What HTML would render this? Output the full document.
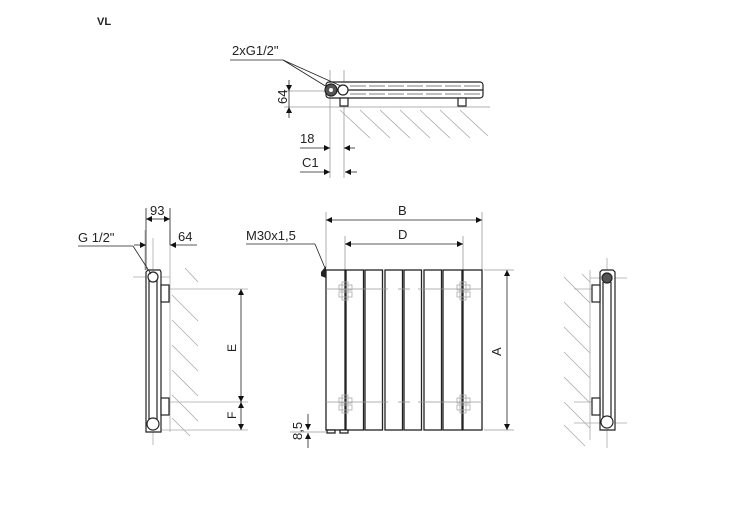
<!DOCTYPE html>
<html><head><meta charset="utf-8"><style>
html,body{margin:0;padding:0;background:#fff;}
svg{display:block;}
text{font-family:"Liberation Sans",sans-serif;fill:#222;font-size:12px;}
</style></head><body>
<svg width="740" height="521" viewBox="0 0 740 521" xmlns="http://www.w3.org/2000/svg">
<defs>
<marker id="a" viewBox="0 0 10 10" refX="10" refY="5" markerWidth="8" markerHeight="6" orient="auto-start-reverse" markerUnits="userSpaceOnUse"><path d="M0,0L10,5L0,10z" fill="#111"/></marker>
</defs>
<text x="97" y="25" style="font-weight:bold;font-size:11px">VL</text>

<!-- TOP VIEW -->
<g stroke="#999" stroke-width="0.8" fill="none">
<line x1="340" y1="107" x2="490" y2="107"/>
<g stroke="#aaa">
<line x1="340" y1="110" x2="370" y2="138"/><line x1="360" y1="110" x2="390" y2="138"/><line x1="380" y1="110" x2="410" y2="138"/><line x1="400" y1="110" x2="430" y2="138"/><line x1="420" y1="110" x2="450" y2="138"/><line x1="440" y1="110" x2="470" y2="138"/><line x1="460" y1="110" x2="488" y2="136"/>
</g>
<line x1="330" y1="70" x2="330" y2="178"/><line x1="344" y1="70" x2="344" y2="178"/>
<line x1="284" y1="91" x2="325" y2="91"/><line x1="284" y1="107" x2="340" y2="107"/>
<line x1="285" y1="77" x2="320" y2="77" stroke="none"/>
</g>
<g stroke="#222" stroke-width="1.2" fill="#fff">
<rect x="326" y="82" width="157" height="16" rx="3"/>
<line x1="328" y1="90" x2="483" y2="90"/>
</g>
<g stroke="#555" stroke-width="0.8">
<line x1="350" y1="86" x2="480" y2="86" stroke-dasharray="16,3"/>
<line x1="350" y1="94" x2="480" y2="94" stroke-dasharray="16,3"/>
</g>
<g stroke="#222" stroke-width="1.2" fill="#fff">
<rect x="340" y="98" width="8" height="8"/><rect x="458" y="98" width="8" height="8"/>
<circle cx="331" cy="90" r="6" fill="#555"/><circle cx="343" cy="90" r="5"/>
</g>
<circle cx="331" cy="90" r="2" fill="#fff"/>
<g stroke="#222" stroke-width="0.8">
<line x1="289" y1="80" x2="289" y2="91" marker-end="url(#a)"/>
<line x1="289" y1="118" x2="289" y2="107" marker-end="url(#a)"/>
<line x1="289" y1="91" x2="289" y2="107"/>
<line x1="300" y1="148" x2="330" y2="148" marker-end="url(#a)"/>
<line x1="355" y1="148" x2="344" y2="148" marker-end="url(#a)"/>
<line x1="300" y1="172" x2="330" y2="172" marker-end="url(#a)"/>
<line x1="357" y1="172" x2="345" y2="172" marker-end="url(#a)"/>
<line x1="230" y1="60" x2="283" y2="60"/>
<line x1="283" y1="60" x2="327" y2="87"/><line x1="283" y1="60" x2="341" y2="86"/>
</g>
<text x="232" y="55" style="font-size:13px">2xG1/2"</text>
<text transform="translate(287,104) rotate(-90)" style="font-size:13px">64</text>
<text x="300" y="143" style="font-size:13px">18</text>
<text x="302" y="167" style="font-size:13px">C1</text>

<!-- LEFT SIDE VIEW -->
<g stroke="#aaa" stroke-width="0.8">
<line x1="170" y1="230" x2="170" y2="432"/>
<line x1="185" y1="268" x2="198" y2="282"/><line x1="172" y1="295" x2="198" y2="321"/><line x1="172" y1="320" x2="198" y2="346"/><line x1="172" y1="345" x2="198" y2="371"/><line x1="172" y1="370" x2="198" y2="396"/><line x1="172" y1="395" x2="198" y2="421"/><line x1="172" y1="418" x2="190" y2="436"/>
<line x1="145" y1="230" x2="145" y2="270"/>
<line x1="153" y1="238" x2="153" y2="445"/>
<line x1="133" y1="277" x2="170" y2="277"/>
<line x1="160" y1="289" x2="248" y2="289"/><line x1="160" y1="402" x2="248" y2="402"/><line x1="160" y1="430" x2="248" y2="430"/>
</g>
<g stroke="#222" stroke-width="1.2" fill="#fff">
<path d="M146,272 L148,270 L160,270 L161,272 L161,432 L146,432 Z"/>
<line x1="149" y1="280" x2="149" y2="425"/><line x1="157" y1="280" x2="157" y2="425"/>
<circle cx="153" cy="277" r="5"/><circle cx="153" cy="424" r="6"/>
<rect x="161" y="285" width="8" height="17"/><rect x="161" y="398" width="8" height="17"/>
</g>
<line x1="153" y1="310" x2="153" y2="400" stroke="#fff" stroke-width="1" stroke-dasharray="8,6"/>
<g stroke="#222" stroke-width="0.8">
<line x1="146" y1="208" x2="146" y2="270"/><line x1="170" y1="208" x2="170" y2="245"/>
<line x1="158" y1="219" x2="146" y2="219" marker-end="url(#a)"/>
<line x1="158" y1="219" x2="170" y2="219" marker-end="url(#a)"/>
<line x1="134" y1="245" x2="146" y2="245" marker-end="url(#a)"/>
<line x1="197" y1="245" x2="170" y2="245" marker-end="url(#a)"/>
<line x1="78" y1="246" x2="133" y2="246"/><line x1="133" y1="246" x2="151" y2="274"/>
<line x1="241" y1="346" x2="241" y2="289" marker-end="url(#a)"/>
<line x1="241" y1="346" x2="241" y2="402" marker-end="url(#a)"/>
<line x1="241" y1="416" x2="241" y2="402" marker-end="url(#a)"/>
<line x1="241" y1="416" x2="241" y2="430" marker-end="url(#a)"/>
</g>
<text x="150" y="215" style="font-size:13px">93</text>
<text x="178" y="241" style="font-size:13px">64</text>
<text x="78" y="242" style="font-size:13px">G 1/2"</text>
<text transform="translate(236,352) rotate(-90)" style="font-size:12px">E</text>
<text transform="translate(236,419) rotate(-90)" style="font-size:12px">F</text>

<!-- FRONT VIEW -->
<g stroke="#999" stroke-width="0.8">
<line x1="326" y1="212" x2="326" y2="268"/><line x1="482" y1="212" x2="482" y2="270"/>
<line x1="345" y1="236" x2="345" y2="270"/><line x1="463" y1="236" x2="463" y2="270"/>
<line x1="484" y1="270" x2="514" y2="270"/><line x1="484" y1="430" x2="514" y2="430"/>
<line x1="290" y1="432" x2="326" y2="432"/>
</g>
<g stroke="#222" stroke-width="1.3" fill="#fff">
<rect x="326" y="270" width="19" height="160"/>
<rect x="346" y="270" width="17.5" height="160"/>
<rect x="365" y="270" width="17.5" height="160"/>
<rect x="385" y="270" width="17.5" height="160"/>
<rect x="404" y="270" width="17.5" height="160"/>
<rect x="424" y="270" width="17.5" height="160"/>
<rect x="443" y="270" width="19" height="160"/>
<rect x="463" y="270" width="19" height="160"/>
<rect x="327" y="430" width="8" height="3"/><rect x="340" y="430" width="8" height="3"/>
</g>
<path d="M326,266 L321,272 L321,276 L326,278Z" fill="#222"/>
<g stroke="#999" stroke-width="0.8">
<line x1="326" y1="289" x2="388" y2="289"/><line x1="398" y1="289" x2="410" y2="289"/><line x1="418" y1="289" x2="482" y2="289"/>
<line x1="326" y1="402" x2="388" y2="402"/><line x1="398" y1="402" x2="410" y2="402"/><line x1="418" y1="402" x2="482" y2="402"/>
</g>
<g stroke="#aaa" stroke-width="0.8" fill="none">
<rect x="339" y="285" width="13" height="5"/><rect x="339" y="292" width="13" height="5"/><rect x="342" y="282" width="6" height="18"/>
<rect x="457" y="285" width="13" height="5"/><rect x="457" y="292" width="13" height="5"/><rect x="460" y="282" width="6" height="18"/>
<rect x="339" y="398" width="13" height="5"/><rect x="339" y="405" width="13" height="5"/><rect x="342" y="395" width="6" height="18"/>
<rect x="457" y="398" width="13" height="5"/><rect x="457" y="405" width="13" height="5"/><rect x="460" y="395" width="6" height="18"/>
</g>
<g stroke="#222" stroke-width="0.8">
<line x1="404" y1="220" x2="326" y2="220" marker-end="url(#a)"/>
<line x1="404" y1="220" x2="482" y2="220" marker-end="url(#a)"/>
<line x1="404" y1="244" x2="345" y2="244" marker-end="url(#a)"/>
<line x1="404" y1="244" x2="463" y2="244" marker-end="url(#a)"/>
<line x1="507" y1="350" x2="507" y2="270" marker-end="url(#a)"/>
<line x1="507" y1="350" x2="507" y2="430" marker-end="url(#a)"/>
<line x1="308" y1="414" x2="308" y2="430" marker-end="url(#a)"/>
<line x1="308" y1="448" x2="308" y2="433" marker-end="url(#a)"/>
<line x1="246" y1="244" x2="315" y2="244"/><line x1="315" y1="244" x2="325" y2="268"/>
</g>
<text x="398" y="215" style="font-size:13px">B</text>
<text x="398" y="239" style="font-size:13px">D</text>
<text transform="translate(501,356) rotate(-90)" style="font-size:13px">A</text>
<text transform="translate(302,440) rotate(-90)" style="font-size:13px">8,5</text>
<text x="246" y="240" style="font-size:13px">M30x1,5</text>

<!-- RIGHT SIDE VIEW -->
<g stroke="#aaa" stroke-width="0.8">
<line x1="590" y1="270" x2="590" y2="440"/>
<line x1="564" y1="277" x2="590" y2="303"/><line x1="564" y1="302" x2="590" y2="328"/><line x1="564" y1="327" x2="590" y2="353"/><line x1="564" y1="352" x2="590" y2="378"/><line x1="564" y1="377" x2="590" y2="403"/><line x1="564" y1="402" x2="590" y2="428"/><line x1="564" y1="425" x2="585" y2="446"/>
<line x1="582" y1="274" x2="590" y2="282"/>
<line x1="607" y1="258" x2="607" y2="448"/>
<line x1="590" y1="278" x2="627" y2="278"/><line x1="574" y1="289" x2="607" y2="289"/><line x1="574" y1="402" x2="607" y2="402"/><line x1="574" y1="423" x2="627" y2="423"/>
</g>
<g stroke="#222" stroke-width="1.2" fill="#fff">
<path d="M600,272 L602,270 L613,270 L615,272 L615,430 L600,430 Z"/>
<line x1="603" y1="282" x2="603" y2="420"/><line x1="611" y1="282" x2="611" y2="420"/>
<circle cx="607" cy="278" r="5" fill="#555"/><circle cx="607" cy="422" r="6"/>
<rect x="592" y="285" width="8" height="17"/><rect x="592" y="398" width="8" height="17"/>
</g>
<line x1="607" y1="310" x2="607" y2="400" stroke="#fff" stroke-width="1" stroke-dasharray="8,6"/>
</svg>
</body></html>
